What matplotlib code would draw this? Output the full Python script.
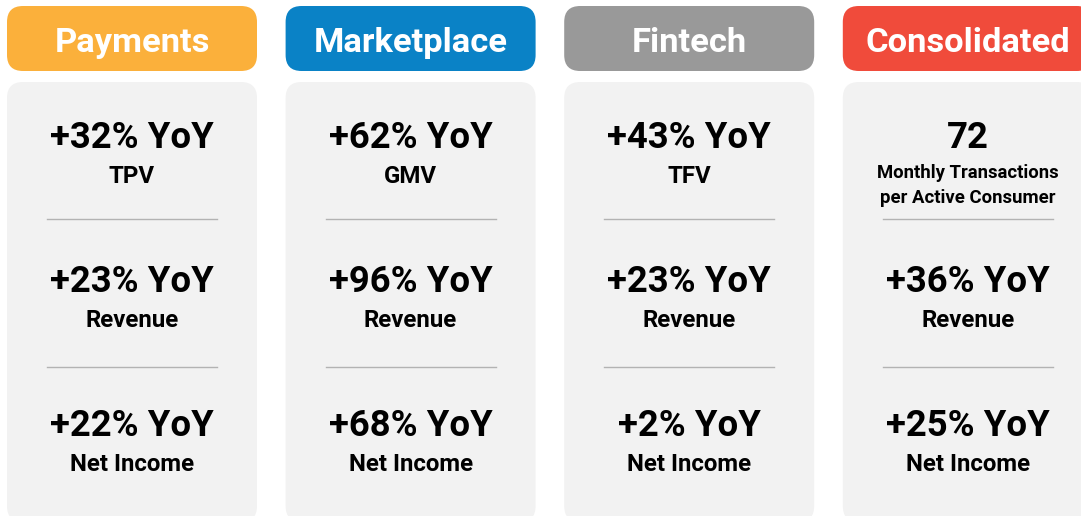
import matplotlib.pyplot as plt
from matplotlib.patches import FancyBboxPatch

# segment data
segments = ['Payments', 'Marketplace', 'Fintech', 'Consolidated']
header_colors = ['#FBB03B', '#0A82C6', '#999999', '#F04B3B']
top_values = ['+32% YoY', '+62% YoY', '+43% YoY', '72']
top_labels = ['TPV', 'GMV', 'TFV', 'Monthly Transactions\nper Active Consumer']
revenue_growth = [23, 96, 23, 36]
net_income_growth = [22, 68, 2, 25]

W, H = 1081, 516
fig = plt.figure(figsize=(W / 100, H / 100), dpi=100)
ax = fig.add_axes([0, 0, 1, 1])
ax.set_xlim(0, W)
ax.set_ylim(H, 0)
ax.axis('off')

font = 'Roboto'
col_w = 250
step = 278.6

for i, seg in enumerate(segments):
    x0 = 7 + step * i
    xc = x0 + col_w / 2

    # header pill
    ax.add_patch(FancyBboxPatch((x0 + 16, 6 + 16), col_w - 32, 65 - 32,
                                boxstyle='round,pad=16', fc=header_colors[i],
                                ec='none'))
    ax.text(xc, 52, seg, ha='center', va='baseline', color='white',
            fontsize=24.8, fontweight='bold', family=font)

    # grey card
    ax.add_patch(FancyBboxPatch((x0 + 16, 82 + 16), col_w - 32, 440 - 32,
                                boxstyle='round,pad=16', fc='#F2F2F2',
                                ec='none'))

    # row 1
    ax.text(xc, 148, top_values[i], ha='center', va='baseline',
            fontsize=26.3, fontweight='bold', family=font)
    if '\n' in top_labels[i]:
        for k, line in enumerate(top_labels[i].split('\n')):
            ax.text(xc, 178 + 25 * k, line, ha='center', va='baseline',
                    fontsize=13.3, fontweight='bold', family=font)
    else:
        ax.text(xc, 183, top_labels[i], ha='center', va='baseline',
                fontsize=17.3, fontweight='bold', family=font)

    # row 2 and 3
    rows = [(revenue_growth[i], 'Revenue'), (net_income_growth[i], 'Net Income')]
    for r, (val, lab) in enumerate(rows):
        yb = 292 + 144 * r
        ax.text(xc, yb, f'+{val}% YoY', ha='center', va='baseline',
                fontsize=26.3, fontweight='bold', family=font)
        ax.text(xc, yb + 35, lab, ha='center', va='baseline',
                fontsize=17.3, fontweight='bold', family=font)

    # dividers
    for yd in (219, 367):
        ax.plot([x0 + 40, x0 + 210], [yd, yd], color='#B3B3B3', lw=1)

fig.savefig('out.png', dpi=100)
